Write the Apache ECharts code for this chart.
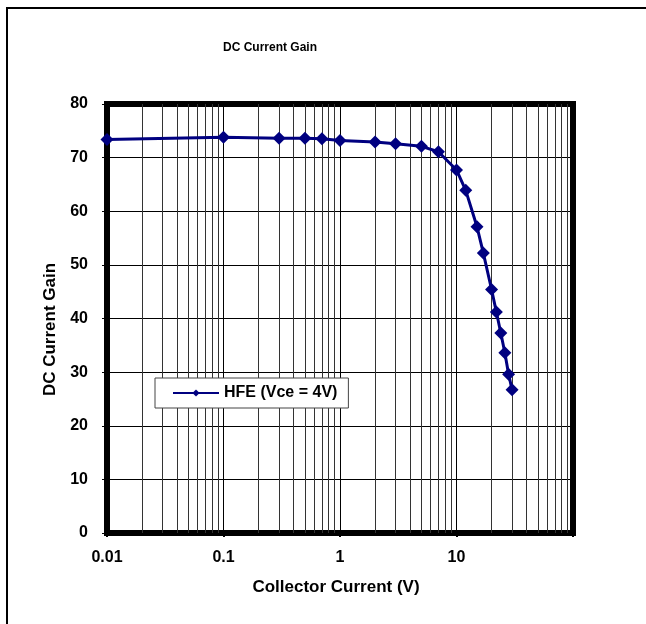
<!DOCTYPE html>
<html>
<head>
    <meta charset="utf-8">
    <script src="https://cdn.jsdelivr.net/npm/echarts@6/dist/echarts.min.js"></script>
    <style>
        html, body { margin: 0; padding: 0; background: #fff; }
    </style>
</head>
<body>
	<div id="main" style="width: 646px; height: 624px;"></div>
	<script type="text/javascript">
		// collector current and gain
		var current = [0.01, 0.1, 0.3, 0.5, 0.7, 1, 2, 3, 5, 7, 10, 12, 15, 17, 20, 22, 24, 26, 28, 30]
		var hfe = [73.4, 73.8, 73.6, 73.6, 73.5, 73.2, 72.9, 72.6, 72.1, 71.1, 67.7, 63.9, 57.1, 52.2, 45.4, 41.2, 37.3, 33.6, 29.6, 26.7]
		var seriesName = 'HFE (Vce = 4V)'
		var xTickLabels = ['0.01', '0.1', '1', '10']

		// minor log grid lines (2..9 in every decade)
		var minorGridX = []
		var decades = [0.01, 0.1, 1, 10]
		for (var d = 0; d < decades.length; d++) {
			for (var k = 2; k <= 9; k++) {
				minorGridX.push({ xAxis: +(decades[d] * k).toPrecision(3) })
			}
		}

		var points = []
		for (var i = 0; i < current.length; i++) {
			points.push([current[i], hfe[i]])
		}

		var font = '"Liberation Sans", Arial, sans-serif'
		var myChart = echarts.init(document.getElementById('main'))
		var option = {
			animation: false,
			backgroundColor: '#fff',
			title: {
				text: 'DC Current Gain',
				left: 218,
				top: 37,
				textStyle: { fontFamily: font, fontSize: 12, fontWeight: 'bold', color: '#000' }
			},
			graphic: [{
				type: 'rect',
				shape: { x: 7, y: 8, width: 700, height: 700 },
				style: { fill: null, stroke: '#000', lineWidth: 2 },
				silent: true
			}],
			legend: {
				data: [seriesName],
				left: 155,
				top: 378,
				orient: 'horizontal',
				itemWidth: 46,
				itemHeight: 9,
				itemGap: 5,
				padding: [7, 11, 7, 17],
				backgroundColor: '#fff',
				borderColor: '#444',
				borderWidth: 1,
				borderRadius: 0,
				lineStyle: { width: 2 },
				textStyle: { fontFamily: font, fontSize: 16, fontWeight: 'bold', color: '#000' }
			},
			grid: {
				left: 107,
				right: 73,
				top: 104,
				bottom: 91,
				show: true,
				borderColor: '#000',
				borderWidth: 6,
				containLabel: false
			},
			xAxis: {
				type: 'log',
				logBase: 10,
				min: 0.01,
				max: 100,
				name: 'Collector Current (V)',
				nameLocation: 'middle',
				nameGap: 46,
				nameTextStyle: { fontFamily: font, fontSize: 17, fontWeight: 'bold', color: '#000', padding: [0, 8, 0, 0] },
				axisLine: { show: true, lineStyle: { color: '#000', width: 1 } },
				axisTick: { show: true, length: 4, lineStyle: { color: '#000', width: 2 } },
				axisLabel: {
					margin: 17,
					fontFamily: font, fontSize: 16, fontWeight: 'bold', color: '#000',
					formatter: function (v) {
						var s = String(+v.toPrecision(3))
						return xTickLabels.indexOf(s) >= 0 ? s : ''
					}
				},
				splitLine: { show: true, lineStyle: { color: '#000', width: 1 } }
			},
			yAxis: {
				type: 'value',
				min: 0,
				max: 80,
				interval: 10,
				name: 'DC Current Gain',
				nameLocation: 'middle',
				nameGap: 44,
				nameTextStyle: { fontFamily: font, fontSize: 17, fontWeight: 'bold', color: '#000', padding: [0, 22, 0, 0] },
				axisLine: { show: true, lineStyle: { color: '#000', width: 1 } },
				axisTick: { show: true, length: 5, lineStyle: { color: '#000', width: 1 } },
				axisLabel: { margin: 19, fontFamily: font, fontSize: 16, fontWeight: 'bold', color: '#000' },
				splitLine: { show: true, lineStyle: { color: '#000', width: 1 } }
			},
			series: [{
				name: seriesName,
				type: 'line',
				data: points,
				symbol: 'diamond',
				symbolSize: 13,
				color: '#000080',
				lineStyle: { color: '#000080', width: 3 },
				itemStyle: { color: '#000080' },
				z: 5,
				markLine: {
					silent: true,
					symbol: ['none', 'none'],
					label: { show: false },
					lineStyle: { color: '#333', width: 1, type: 'solid' },
					emphasis: { disabled: true },
					data: minorGridX,
					z: 1
				}
			}]
		}
		myChart.setOption(option)
	</script>
</body>
</html>
